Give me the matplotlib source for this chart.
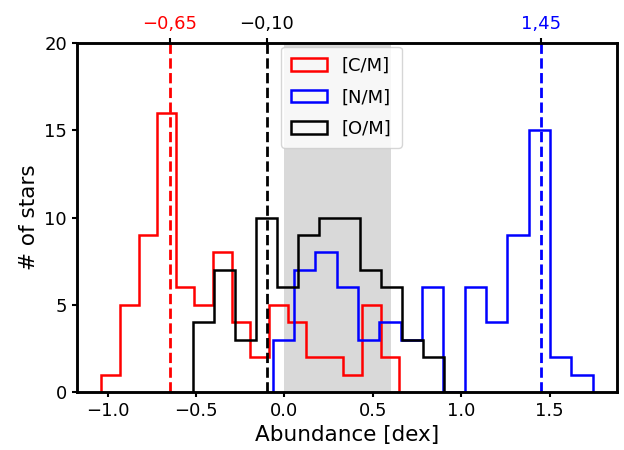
import numpy as np
import matplotlib
matplotlib.use("Agg")
import matplotlib.pyplot as plt

# ---- data ----
labels = ["[C/M]", "[N/M]", "[O/M]"]
c_counts = [1, 5, 9, 16, 6, 5, 8, 4, 2, 5, 4, 2, 2, 1, 5, 2]
c_range = (-1.036, 0.650)
n_counts = [3, 7, 8, 6, 3, 4, 3, 6, 0, 6, 4, 9, 15, 2, 1]
n_range = (-0.066, 1.743)
o_counts = [4, 7, 3, 10, 6, 9, 10, 10, 7, 6, 3, 2]
o_range = (-0.518, 0.904)
means = [-0.65, 1.45, -0.10]
mean_labels = ["\u22120,65", "1,45", "\u22120,10"]
band = (0.0, 0.6)

colors = ["red", "blue", "black"]

fig = plt.figure(figsize=(6.24, 4.5), dpi=100)
ax = fig.add_axes([0.123, 0.129, 0.866, 0.775])

ax.axvspan(band[0], band[1], color="#d9d9d9", zorder=0, lw=0)

for counts, rng, col, lab in zip([c_counts, n_counts, o_counts],
                                 [c_range, n_range, o_range], colors, labels):
    edges = np.linspace(rng[0], rng[1], len(counts) + 1)
    centers = 0.5 * (edges[:-1] + edges[1:])
    ax.hist(centers, bins=edges, weights=counts, histtype="step",
            color=col, lw=1.8, label=lab)

for m, col in zip(means, colors):
    ax.axvline(m, color=col, ls="--", lw=2)

ax.set_ylim(0, 20)
ax.set_yticks([0, 5, 10, 15, 20])
ax.set_xticks([-1.0, -0.5, 0.0, 0.5, 1.0, 1.5])
ax.tick_params(labelsize=13, width=1.5)
ax.set_xlabel("Abundance [dex]", fontsize=15.5)
ax.set_ylabel("# of stars", fontsize=15.5)
for sp in ax.spines.values():
    sp.set_linewidth(1.8)

leg = ax.legend(loc="upper center", fontsize=13, handlelength=2.0,
                labelspacing=0.75, borderaxespad=0.2, borderpad=0.55,
                bbox_to_anchor=(0.49, 1.0))

ax2 = ax.twiny()
ax2.set_xlim(ax.get_xlim())
ax2.set_xticks(means)
ax2.set_xticklabels(mean_labels)
ax2.tick_params(labelsize=13, width=1.5)
for t, col in zip(ax2.get_xticklabels(), colors):
    t.set_color(col)
for sp in ax2.spines.values():
    sp.set_linewidth(1.8)

fig.savefig("out.png", dpi=100)
